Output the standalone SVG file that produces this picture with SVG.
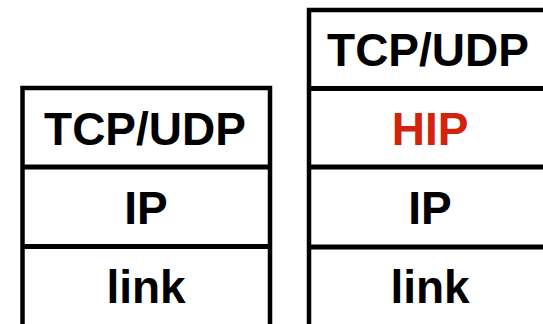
<svg xmlns="http://www.w3.org/2000/svg" width="543" height="324" viewBox="0 0 543 324">
<style>
.box{fill:#fff;stroke:#000;stroke-width:4.5}
.div{stroke:#000;stroke-width:5}
.t{font-family:"Liberation Sans",Arial,sans-serif;font-weight:bold;font-size:46px;text-anchor:middle;fill:#000}
.red{fill:#d2230e}
</style>
<rect width="543" height="324" fill="#fff"/>
<g id="left-stack">
<rect class="box" x="22.5" y="88" width="247.5" height="260"/>
<g id="left-tcpudp"><text class="t" x="145" y="144.5">TCP/UDP</text></g>
<g id="left-ip"><text class="t" x="146" y="223.5">IP</text></g>
<g id="left-link"><text class="t" x="146" y="303">link</text></g>
</g>
<g id="right-stack">
<rect class="box" x="309" y="10" width="242" height="340"/>
<g id="right-tcpudp"><text class="t" x="428" y="65.5">TCP/UDP</text></g>
<g id="right-hip"><text class="t red" x="430" y="144.5">HIP</text></g>
<g id="right-ip"><text class="t" x="430" y="223.5">IP</text></g>
<g id="right-link"><text class="t" x="430" y="303">link</text></g>
</g>
<g id="connectors">
<line class="div" x1="22.5" y1="167" x2="270" y2="167"/>
<line class="div" x1="22.5" y1="246.5" x2="270" y2="246.5"/>
<line class="div" x1="309" y1="88.5" x2="551" y2="88.5"/>
<line class="div" x1="309" y1="167" x2="551" y2="167"/>
<line class="div" x1="309" y1="247" x2="551" y2="247"/>
</g>
</svg>
